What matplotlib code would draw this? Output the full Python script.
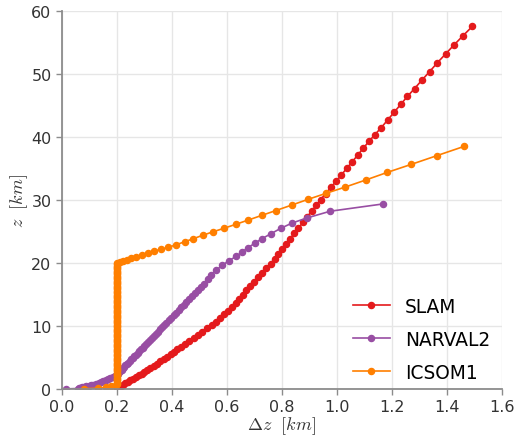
import matplotlib
matplotlib.use("Agg")
import matplotlib.pyplot as plt

# vertical grid spacing (dz) against height (z)
slam_z = [0.014, 0.218, 0.429, 0.648, 0.875, 1.11, 1.354, 1.608, 1.872, 2.147,
          2.432, 2.727, 3.033, 3.35, 3.678, 4.018, 4.37, 4.735, 5.112, 5.501,
          5.902, 6.316, 6.743, 7.184, 7.64, 8.111, 8.598, 9.101, 9.621, 10.157,
          10.708, 11.275, 11.858, 12.456, 13.067, 13.691, 14.328, 14.978, 15.641, 16.318,
          17.009, 17.714, 18.434, 19.169, 19.92, 20.686, 21.465, 22.258, 23.066, 23.888,
          24.725, 25.577, 26.445, 27.328, 28.227, 29.142, 30.074, 31.024, 31.992, 32.979,
          33.985, 35.01, 36.055, 37.12, 38.2, 39.3, 40.4, 41.5, 42.7, 43.9,
          45.2, 46.45, 47.7, 49.05, 50.4, 51.8, 53.2, 54.6, 56.08, 57.56]
slam_dz = [0.200, 0.208, 0.215, 0.223, 0.231, 0.239, 0.249, 0.259, 0.270, 0.280,
           0.290, 0.300, 0.311, 0.322, 0.334, 0.346, 0.358, 0.371, 0.383, 0.395,
           0.407, 0.420, 0.434, 0.448, 0.463, 0.479, 0.494, 0.511, 0.528, 0.544,
           0.559, 0.575, 0.591, 0.605, 0.618, 0.631, 0.644, 0.657, 0.670, 0.684,
           0.698, 0.713, 0.728, 0.743, 0.759, 0.773, 0.786, 0.801, 0.815, 0.830,
           0.845, 0.860, 0.876, 0.891, 0.908, 0.924, 0.940, 0.959, 0.977, 0.997,
           1.016, 1.035, 1.055, 1.075, 1.095, 1.116, 1.138, 1.161, 1.184, 1.207,
           1.232, 1.256, 1.282, 1.309, 1.337, 1.365, 1.395, 1.425, 1.458, 1.492]

narval_z = [0.02, 0.08, 0.14, 0.20, 0.267, 0.34, 0.42, 0.508, 0.605, 0.71,
            0.824, 0.947, 1.081, 1.223, 1.373, 1.532, 1.699, 1.875, 2.061, 2.255,
            2.454, 2.657, 2.864, 3.076, 3.293, 3.514, 3.74, 3.971, 4.207, 4.448,
            4.695, 4.947, 5.205, 5.468, 5.737, 6.012, 6.293, 6.58, 6.874, 7.174,
            7.481, 7.794, 8.114, 8.441, 8.775, 9.116, 9.465, 9.821, 10.185, 10.557,
            10.937, 11.326, 11.723, 12.129, 12.544, 12.968, 13.401, 13.844, 14.296, 14.758,
            15.23, 15.713, 16.206, 16.71, 17.4, 18.14, 18.89, 19.63, 20.37, 21.06,
            21.75, 22.43, 23.13, 23.86, 24.65, 25.5, 26.35, 27.17, 28.22, 29.37]
narval_dz = [0.015, 0.057, 0.061, 0.067, 0.073, 0.080, 0.088, 0.097, 0.105, 0.114,
             0.123, 0.134, 0.142, 0.150, 0.159, 0.167, 0.176, 0.186, 0.194, 0.199,
             0.203, 0.207, 0.212, 0.217, 0.221, 0.226, 0.231, 0.236, 0.241, 0.247,
             0.252, 0.258, 0.263, 0.269, 0.275, 0.281, 0.287, 0.294, 0.300, 0.307,
             0.313, 0.320, 0.327, 0.334, 0.341, 0.349, 0.356, 0.364, 0.372, 0.380,
             0.389, 0.397, 0.406, 0.415, 0.424, 0.433, 0.443, 0.452, 0.462, 0.472,
             0.483, 0.493, 0.504, 0.515, 0.530, 0.542, 0.561, 0.583, 0.607, 0.634,
             0.655, 0.676, 0.701, 0.727, 0.760, 0.795, 0.837, 0.892, 0.975, 1.166]

# ICSOM1: a few surface levels, a constant 200 m column up to ~20 km, then stretched
icsom_z_low = [0.05, 0.13, 0.26, 0.42, 0.6]
icsom_dz_low = [0.08, 0.13, 0.16, 0.18, 0.195]
icsom_z_col = [0.8, 1.0, 1.2, 1.4, 1.6, 1.8, 2.0, 2.2, 2.4, 2.6, 2.8, 3.0,
               3.2, 3.4, 3.6, 3.8, 4.0, 4.2, 4.4, 4.6, 4.8, 5.0, 5.2, 5.4,
               5.6, 5.8, 6.0, 6.2, 6.4, 6.6, 6.8, 7.0, 7.2, 7.4, 7.6, 7.8,
               8.0, 8.2, 8.4, 8.6, 8.8, 9.0, 9.2, 9.4, 9.6, 9.8, 10.0, 10.2,
               10.4, 10.6, 10.8, 11.0, 11.2, 11.4, 11.6, 11.8, 12.0, 12.2, 12.4, 12.6,
               12.8, 13.0, 13.2, 13.4, 13.6, 13.8, 14.0, 14.2, 14.4, 14.6, 14.8, 15.0,
               15.2, 15.4, 15.6, 15.8, 16.0, 16.2, 16.4, 16.6, 16.8, 17.0, 17.2, 17.4,
               17.6, 17.8, 18.0, 18.2, 18.4, 18.6, 18.8, 19.0, 19.2, 19.4, 19.6, 19.8, 19.98]
icsom_dz_col = [0.2] * len(icsom_z_col)
icsom_z_up = [20.16, 20.37, 20.52, 20.74, 20.95, 21.22, 21.54, 21.85, 22.17, 22.49,
              22.91, 23.38, 23.85, 24.42, 24.95, 25.5, 26.14, 26.83, 27.56, 28.33,
              29.19, 30.11, 31.06, 32.06, 33.17, 34.39, 35.66, 37.03, 38.5]
icsom_dz_up = [0.210, 0.222, 0.236, 0.252, 0.270, 0.290, 0.312, 0.335, 0.359, 0.387,
               0.416, 0.447, 0.477, 0.513, 0.549, 0.588, 0.632, 0.678, 0.726, 0.778,
               0.835, 0.895, 0.960, 1.030, 1.104, 1.183, 1.270, 1.362, 1.461]

icsom_z = icsom_z_low + icsom_z_col + icsom_z_up
icsom_dz = icsom_dz_low + icsom_dz_col + icsom_dz_up

plt.rcParams['mathtext.fontset'] = 'cm'
plt.rcParams['font.family'] = 'DejaVu Sans'

fig = plt.figure(figsize=(5.16, 4.39), dpi=100)
ax = fig.add_axes([0.120, 0.1116, 0.853, 0.861])

style = dict(marker='o', markersize=4.4, linewidth=1.2)
ax.plot(slam_dz, slam_z, color='#e41a1c', label='SLAM', **style)
ax.plot(narval_dz, narval_z, color='#984ea3', label='NARVAL2', **style)
ax.plot(icsom_dz, icsom_z, color='#ff7f00', label='ICSOM1', **style)

ax.set_xlim(0, 1.6)
ax.set_ylim(0, 60)
ax.set_xticks([0.0, 0.2, 0.4, 0.6, 0.8, 1.0, 1.2, 1.4, 1.6])
ax.set_yticks([0, 10, 20, 30, 40, 50, 60])
ax.grid(True, color='#e6e6e6', linewidth=1.0)
ax.set_axisbelow(True)
for s in ['top', 'right']:
    ax.spines[s].set_visible(False)
for s in ['left', 'bottom']:
    ax.spines[s].set_color('#8c8c8c')
    ax.spines[s].set_linewidth(1.3)
ax.tick_params(colors='#8c8c8c', labelcolor='#333333', labelsize=11.5,
               length=4, width=1)

ax.set_xlabel(r'$\Delta z\ \ [km]$', fontsize=13, color='#333333', labelpad=0)
ax.set_ylabel(r'$z\ \ [km]$', fontsize=13, color='#333333', labelpad=1)

ax.legend(loc='lower right', frameon=False, fontsize=13.4, numpoints=1,
          bbox_to_anchor=(0.99, 0.0), borderaxespad=0, handlelength=2.0,
          handletextpad=0.8, labelspacing=0.75)

fig.savefig('out.png', dpi=100)
